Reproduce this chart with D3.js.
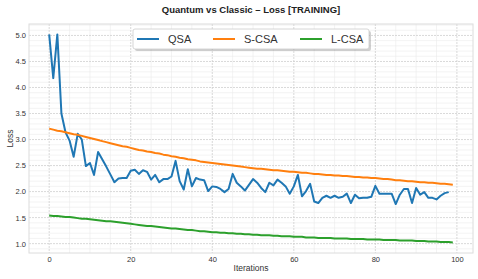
<!DOCTYPE html>
<meta charset="utf-8">
<style>
body { margin: 0; background: #fff; }
text { font-family: "Liberation Sans", Arial, sans-serif; fill: #333; }
.title { font-weight: bold; fill: #222; }
.line { fill: none; stroke-width: 2; stroke-linejoin: round; }
</style>
<body>
<script src="https://d3js.org/d3.v7.min.js"></script>
<script>
// values
var qsa = [5.02, 4.18, 5.02, 3.50, 3.14, 2.98, 2.67, 3.11, 3.00, 2.49,
           2.55, 2.32, 2.76, 2.62, 2.48, 2.33, 2.18, 2.25, 2.26, 2.26,
           2.40, 2.42, 2.34, 2.41, 2.38, 2.23, 2.32, 2.18, 2.24, 2.24,
           2.29, 2.59, 2.20, 2.04, 2.43, 2.10, 2.26, 2.23, 2.22, 2.01,
           2.10, 2.09, 2.05, 1.99, 2.05, 2.34, 2.17, 2.10, 2.02, 2.13,
           2.24, 2.17, 2.07, 1.99, 2.17, 2.12, 2.23, 2.17, 2.10, 1.96,
           2.10, 2.32, 1.91, 2.01, 2.15, 1.81, 1.78, 1.88, 1.92, 1.88,
           1.92, 1.88, 1.90, 1.96, 1.78, 1.94, 1.87, 1.88, 1.88, 1.90,
           2.11, 1.96, 1.96, 1.96, 1.96, 1.76, 1.94, 2.05, 2.05, 1.78,
           2.07, 1.94, 1.99, 1.88, 1.88, 1.85, 1.92, 1.97, 1.99];

var scsa = [3.21, 3.19, 3.17, 3.16, 3.14, 3.12, 3.10, 3.09, 3.07, 3.05,
            3.03, 3.01, 2.99, 2.97, 2.95, 2.93, 2.91, 2.89, 2.87, 2.86,
            2.84, 2.82, 2.80, 2.79, 2.77, 2.76, 2.74, 2.73, 2.71, 2.70,
            2.68, 2.67, 2.65, 2.64, 2.62, 2.61, 2.60, 2.58, 2.57, 2.56,
            2.55, 2.54, 2.53, 2.52, 2.51, 2.50, 2.49, 2.48, 2.47, 2.46,
            2.45, 2.44, 2.44, 2.43, 2.42, 2.41, 2.41, 2.40, 2.39, 2.38,
            2.38, 2.37, 2.36, 2.36, 2.35, 2.34, 2.34, 2.33, 2.32, 2.32,
            2.31, 2.31, 2.30, 2.30, 2.29, 2.28, 2.28, 2.27, 2.27, 2.26,
            2.26, 2.25, 2.24, 2.24, 2.23, 2.22, 2.22, 2.21, 2.20, 2.20,
            2.19, 2.18, 2.18, 2.17, 2.17, 2.16, 2.15, 2.15, 2.14, 2.13];

var lcsa = [1.54, 1.53, 1.53, 1.52, 1.51, 1.51, 1.50, 1.49, 1.48, 1.48,
            1.47, 1.46, 1.45, 1.44, 1.43, 1.43, 1.42, 1.41, 1.40, 1.39,
            1.38, 1.37, 1.36, 1.35, 1.34, 1.34, 1.33, 1.32, 1.31, 1.30,
            1.29, 1.29, 1.28, 1.27, 1.26, 1.26, 1.25, 1.24, 1.24, 1.23,
            1.22, 1.22, 1.21, 1.21, 1.20, 1.20, 1.19, 1.19, 1.18, 1.18,
            1.17, 1.17, 1.16, 1.16, 1.16, 1.15, 1.15, 1.14, 1.14, 1.14,
            1.13, 1.13, 1.13, 1.12, 1.12, 1.12, 1.11, 1.11, 1.11, 1.11,
            1.10, 1.10, 1.10, 1.10, 1.09, 1.09, 1.09, 1.09, 1.08, 1.08,
            1.08, 1.08, 1.07, 1.07, 1.07, 1.07, 1.06, 1.06, 1.06, 1.06,
            1.05, 1.05, 1.05, 1.04, 1.04, 1.04, 1.03, 1.03, 1.03, 1.02];

var names = ["QSA", "S-CSA", "L-CSA"];
var colors = ["#1f77b4", "#ff7f0e", "#2ca02c"];
var xTicks = [0, 20, 40, 60, 80, 100];
var yTicks = [1.0, 1.5, 2.0, 2.5, 3.0, 3.5, 4.0, 4.5, 5.0];

var W = 478, H = 279;
var margin = {top: 24, right: 5, bottom: 26, left: 29};

var series = [qsa, scsa, lcsa];
var all = d3.merge(series);
var xMax = d3.max(series, function(s) { return s.length - 1; });
var yMin = d3.min(all), yMax = d3.max(all);
var xPad = xMax * 0.05, yPad = (yMax - yMin) * 0.05;

var x = d3.scaleLinear()
    .domain([-xPad, xMax + xPad])
    .range([margin.left, W - margin.right]);
var y = d3.scaleLinear()
    .domain([yMin - yPad, yMax + yPad])
    .range([H - margin.bottom, margin.top]);

var svg = d3.select("body").append("svg")
    .attr("width", W)
    .attr("height", H);

// minor grid
svg.append("g").selectAll("line")
    .data(d3.range(-0, 105, 5).filter(function(d) { return d % 20 != 0; }))
  .enter().append("line")
    .attr("x1", function(d) { return x(d); }).attr("x2", function(d) { return x(d); })
    .attr("y1", margin.top).attr("y2", H - margin.bottom)
    .attr("stroke", "#ebebeb").attr("stroke-width", 0.6);
svg.append("g").selectAll("line")
    .data(d3.range(9, 53).map(function(d) { return d / 10; }).filter(function(d) { return Math.round(d * 10) % 5 != 0; }))
  .enter().append("line")
    .attr("y1", function(d) { return y(d); }).attr("y2", function(d) { return y(d); })
    .attr("x1", margin.left).attr("x2", W - margin.right)
    .attr("stroke", "#ebebeb").attr("stroke-width", 0.6);

// major grid (dashed)
svg.append("g").selectAll("line")
    .data(xTicks)
  .enter().append("line")
    .attr("x1", function(d) { return x(d); }).attr("x2", function(d) { return x(d); })
    .attr("y1", margin.top).attr("y2", H - margin.bottom)
    .attr("stroke", "#cfcfcf").attr("stroke-width", 0.8).attr("stroke-dasharray", "2,1");
svg.append("g").selectAll("line")
    .data(yTicks)
  .enter().append("line")
    .attr("y1", function(d) { return y(d); }).attr("y2", function(d) { return y(d); })
    .attr("x1", margin.left).attr("x2", W - margin.right)
    .attr("stroke", "#cfcfcf").attr("stroke-width", 0.8).attr("stroke-dasharray", "2,1");

// frame
svg.append("rect")
    .attr("x", margin.left).attr("y", margin.top)
    .attr("width", W - margin.right - margin.left)
    .attr("height", H - margin.bottom - margin.top)
    .attr("fill", "none").attr("stroke", "#dcdcdc").attr("stroke-width", 1);

// axes (labels only)
var xAxis = svg.append("g")
    .attr("transform", "translate(0," + (H - margin.bottom) + ")")
    .call(d3.axisBottom(x).tickValues(xTicks).tickSize(0).tickPadding(4));
var yAxis = svg.append("g")
    .attr("transform", "translate(" + margin.left + ",0)")
    .call(d3.axisLeft(y).tickValues(yTicks).tickFormat(d3.format(".1f")).tickSize(0).tickPadding(3));
[xAxis, yAxis].forEach(function(a) {
  a.select(".domain").remove();
  a.selectAll("text").attr("font-size", 7.5).attr("fill", "#333")
    .attr("font-family", "Liberation Sans, Arial, sans-serif");
});

// lines
var line = d3.line()
    .x(function(d, i) { return x(i); })
    .y(function(d) { return y(d); });

svg.append("g").selectAll("path")
    .data(series)
  .enter().append("path")
    .attr("class", "line")
    .attr("d", line)
    .attr("stroke", function(d, i) { return colors[i]; });

// titles
svg.append("text")
    .attr("class", "title")
    .attr("x", (margin.left + W - margin.right) / 2)
    .attr("y", 13)
    .attr("text-anchor", "middle")
    .attr("font-size", 9.5)
    .text("Quantum vs Classic \u2013 Loss [TRAINING]");

svg.append("text")
    .attr("x", (margin.left + W - margin.right) / 2)
    .attr("y", 271)
    .attr("text-anchor", "middle")
    .attr("font-size", 8.5)
    .text("Iterations");

svg.append("text")
    .attr("transform", "translate(13," + ((margin.top + H - margin.bottom) / 2) + ") rotate(-90)")
    .attr("text-anchor", "middle")
    .attr("font-size", 8.5)
    .text("Loss");

// legend
var lg = svg.append("g").attr("transform", "translate(133,29)");
lg.append("rect")
    .attr("x", 2).attr("y", 2).attr("width", 236).attr("height", 20).attr("rx", 2)
    .attr("fill", "#000").attr("opacity", 0.18);
lg.append("rect")
    .attr("width", 236).attr("height", 20).attr("rx", 2)
    .attr("fill", "#fff").attr("stroke", "#cccccc").attr("stroke-width", 0.8);

var entry = lg.selectAll(".entry")
    .data(names)
  .enter().append("g")
    .attr("class", "entry")
    .attr("transform", function(d, i) { return "translate(" + [4, 80, 167][i] + ",0)"; });
entry.append("line")
    .attr("x1", 0).attr("x2", 22).attr("y1", 10).attr("y2", 10)
    .attr("stroke", function(d, i) { return colors[i]; })
    .attr("stroke-width", 2);
entry.append("text")
    .attr("x", 31).attr("y", 14)
    .attr("font-size", 11)
    .attr("fill", "#222")
    .text(function(d) { return d; });
</script>
</body>
